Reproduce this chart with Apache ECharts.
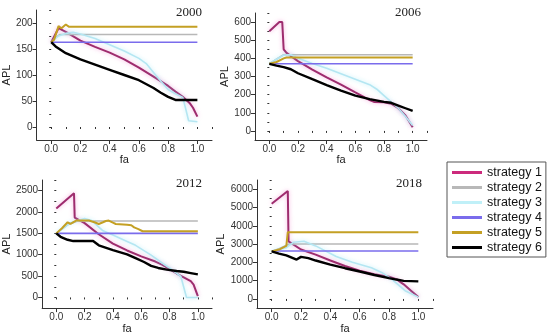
<!DOCTYPE html>
<html>
<head>
<meta charset="utf-8">
<script src="https://cdn.jsdelivr.net/npm/echarts@6/dist/echarts.min.js"></script>
<style>html,body{margin:0;padding:0;background:#fff}#c{width:550px;height:335px}</style>
</head>
<body>
<div id="c"></div>
<script>
const names = ['strategy 1','strategy 2','strategy 3','strategy 4','strategy 5','strategy 6'];
const years = ['2000','2006','2012','2018'];
const xTicks = [0,0.2,0.4,0.6,0.8,1.0];
const yTicks2000 = [0,50,100,150,200];
const yTicks2006 = [0,100,200,300,400,500,600];
const yTicks2012 = [0,500,1000,1500,2000,2500];
const yTicks2018 = [0,1000,2000,3000,4000,5000,6000];

// 2000
const s1_2000 = [[0,163],[0.05,190],[0.1,183],[0.2,166],[0.3,154],[0.4,143],[0.5,130],[0.6,114],[0.7,97],[0.8,79],[0.85,68],[0.9,58],[0.95,45],[0.97,37],[1.0,20]];
const s2_2000 = [[0,163],[0.03,172],[0.06,178],[1.0,178]];
const s3_2000 = [[0,163],[0.05,175],[0.1,180],[0.15,182],[0.2,179],[0.3,170],[0.4,158],[0.5,146],[0.6,132],[0.65,122],[0.7,105],[0.75,88],[0.8,72],[0.85,64],[0.9,57],[0.92,35],[0.94,12],[1.0,10]];
const s4_2000 = [[0,163],[1.0,163]];
const s5_2000 = [[0,163],[0.02,168],[0.05,194],[0.07,190],[0.1,197],[0.12,193],[1.0,193]];
const s6_2000 = [[0,163],[0.03,155],[0.1,142],[0.2,130],[0.3,120],[0.4,110],[0.5,100],[0.6,90],[0.7,75],[0.75,66],[0.8,58],[0.85,52],[1.0,52]];

// 2006
const s1_2006 = [[0,549],[0.07,600],[0.09,600],[0.1,450],[0.12,430],[0.2,385],[0.3,338],[0.4,295],[0.5,255],[0.6,212],[0.7,170],[0.73,160],[0.8,158],[0.85,150],[0.9,125],[0.95,85],[1.0,20]];
const s2_2006 = [[0,370],[0.05,395],[0.1,420],[1.0,420]];
const s3_2006 = [[0,370],[0.05,395],[0.1,418],[0.15,420],[0.2,400],[0.3,372],[0.4,345],[0.5,315],[0.6,285],[0.7,255],[0.75,230],[0.8,195],[0.85,160],[0.9,125],[0.95,80],[1.0,30]];
const s4_2006 = [[0,370],[1.0,370]];
const s5_2006 = [[0,370],[0.05,380],[0.08,392],[0.1,400],[0.12,405],[1.0,405]];
const s6_2006 = [[0,370],[0.05,360],[0.1,352],[0.15,340],[0.2,318],[0.3,285],[0.4,253],[0.5,222],[0.6,195],[0.7,175],[0.8,160],[0.85,155],[0.9,140],[0.95,125],[1.0,110]];

// 2012
const s1_2012 = [[0,2080],[0.125,2440],[0.13,1870],[0.2,1740],[0.3,1480],[0.4,1260],[0.5,1100],[0.6,960],[0.7,840],[0.75,760],[0.8,660],[0.85,560],[0.9,470],[0.95,380],[0.97,300],[1.0,30]];
const s2_2012 = [[0,1500],[0.08,1700],[0.15,1790],[1.0,1790]];
const s3_2012 = [[0,1500],[0.1,1750],[0.2,1850],[0.25,1800],[0.33,1560],[0.4,1460],[0.5,1310],[0.56,1220],[0.67,990],[0.75,800],[0.8,690],[0.88,490],[0.92,0],[1.0,0]];
const s4_2012 = [[0,1500],[1.0,1500]];
const s5_2012 = [[0,1500],[0.04,1620],[0.08,1760],[0.1,1720],[0.14,1800],[0.23,1800],[0.27,1760],[0.3,1720],[0.33,1760],[0.35,1790],[0.37,1800],[0.4,1750],[0.42,1720],[0.5,1700],[0.53,1690],[0.55,1640],[0.58,1600],[0.61,1550],[1.0,1550]];
const s6_2012 = [[0,1500],[0.03,1420],[0.08,1350],[0.12,1320],[0.26,1320],[0.3,1220],[0.4,1110],[0.5,1010],[0.56,920],[0.62,830],[0.67,740],[0.72,690],[0.78,650],[0.85,620],[0.9,600],[0.95,570],[1.0,540]];

// 2018
const s1_2018 = [[0,5200],[0.11,5900],[0.115,3150],[0.2,2700],[0.3,2420],[0.4,2100],[0.5,1800],[0.6,1540],[0.7,1350],[0.8,1220],[0.85,1080],[0.9,800],[0.95,450],[1.0,100]];
const s2_2018 = [[0,2600],[0.05,2750],[0.12,3000],[1.0,3000]];
const s3_2018 = [[0,2600],[0.1,2800],[0.15,3100],[0.22,3150],[0.3,2900],[0.44,2320],[0.55,2000],[0.68,1700],[0.75,1450],[0.82,1070],[0.91,450],[1.0,100]];
const s4_2018 = [[0,2620],[1.0,2620]];
const s5_2018 = [[0,2600],[0.05,2700],[0.1,2900],[0.11,3650],[1.0,3650]];
const s6_2018 = [[0,2600],[0.05,2480],[0.1,2380],[0.17,2150],[0.2,2300],[0.25,2230],[0.3,2100],[0.4,1880],[0.5,1680],[0.6,1500],[0.7,1310],[0.8,1140],[0.85,1060],[0.9,990],[1.0,960]];

const panelData = [
  [s1_2000,s2_2000,s3_2000,s4_2000,s5_2000,s6_2000],
  [s1_2006,s2_2006,s3_2006,s4_2006,s5_2006,s6_2006],
  [s1_2012,s2_2012,s3_2012,s4_2012,s5_2012,s6_2012],
  [s1_2018,s2_2018,s3_2018,s4_2018,s5_2018,s6_2018]
];
const yTickSets = [yTicks2000,yTicks2006,yTicks2012,yTicks2018];
const yRanges = [[-25,225,25],[-50,650,50],[-250,2750,250],[-500,6500,500]];

const colors = ['#9e2c6e','#b8b8b8','#b4e6f2','#7a6cec','#c4a024','#000000'];
const widths = [2,1.6,1.6,1.6,2,2.4];
const grids = [
  {left:33, top:10, width:179, height:130},
  {left:255, top:13, width:172, height:127},
  {left:36, top:180, width:176, height:129},
  {left:257, top:180, width:176, height:129}
];
const yNameGaps = [21,24,26,28];
const titlePos = [[176,6],[395,6],[176,177],[396,177]];
const FONT = 'Liberation Sans, Arial, sans-serif';

const xAxes = [], yAxes = [], series = [];
grids.forEach((g,i)=>{
  xAxes.push({type:'value',gridIndex:i,position:'bottom',min:-0.1,max:1.1,
    name:'fa',nameLocation:'middle',nameGap:12,nameTextStyle:{fontFamily:FONT,fontSize:11,color:'#222'},
    splitLine:{show:false},axisLine:{onZero:false,lineStyle:{color:'#333',width:1}},
    axisTick:{customValues:xTicks,length:4,lineStyle:{color:'#333'}},
    axisLabel:{customValues:xTicks,formatter:v=>v.toFixed(1),fontFamily:FONT,fontSize:10,color:'#333',margin:4}});
  xAxes.push({type:'value',gridIndex:i,position:'bottom',min:-0.1,max:1.1,interval:0.1,
    splitLine:{show:false},axisLine:{show:false},axisLabel:{show:false},
    axisTick:{length:2,lineStyle:{color:'#333'}}});
  const r = yRanges[i];
  yAxes.push({type:'value',gridIndex:i,position:'left',min:r[0],max:r[1],
    name:'APL',nameLocation:'middle',nameGap:yNameGaps[i],nameTextStyle:{fontFamily:FONT,fontSize:11,color:'#222'},
    splitLine:{show:false},axisLine:{show:true,onZero:false,lineStyle:{color:'#333',width:1}},
    axisTick:{show:true,customValues:yTickSets[i],length:4,lineStyle:{color:'#333'}},
    axisLabel:{customValues:yTickSets[i],formatter:v=>String(v),fontFamily:FONT,fontSize:10,color:'#333',margin:4}});
  yAxes.push({type:'value',gridIndex:i,position:'left',min:r[0],max:r[1],interval:r[2],
    splitLine:{show:false},axisLine:{show:false},axisLabel:{show:false},
    axisTick:{show:true,length:2,lineStyle:{color:'#333'}}});
  const order = [3,1,4,2,0,5];
  order.forEach(k=>{
    series.push({type:'line',name:names[k],xAxisIndex:2*i,yAxisIndex:2*i,data:panelData[i][k],
      showSymbol:false,symbol:'none',animation:false,z:2+k,
      lineStyle:{color:colors[k],width:widths[k],
        shadowColor:k===0?'rgba(240,120,200,0.6)':(k===2?'rgba(150,230,245,0.6)':'rgba(0,0,0,0)'),
        shadowBlur:(k===0||k===2)?4:0},
      itemStyle:{color:colors[k]}});
  });
});

const option = {
  animation:false,
  backgroundColor:'#ffffff',
  title: years.map((y,i)=>({text:y,left:titlePos[i][0],top:titlePos[i][1],padding:0,
    textStyle:{fontFamily:'Liberation Serif, Times New Roman, serif',fontSize:13,fontWeight:'normal',color:'#222'}})),
  legend:{orient:'vertical',left:447,top:162,itemWidth:30,itemHeight:3,icon:'rect',itemGap:2,
    padding:[4,4,3,5],borderColor:'#555',borderWidth:1,
    textStyle:{fontFamily:FONT,fontSize:12.5,color:'#111',lineHeight:13},
    data:names.map((n,k)=>({name:n,itemStyle:{color:k===0?'#cc2a7c':(k===2?'#c0f0f8':colors[k])}}))},
  grid:grids,
  xAxis:xAxes,
  yAxis:yAxes,
  series:series
};
const chart = echarts.init(document.getElementById('c'),null,{renderer:'canvas'});
chart.setOption(option);
</script>
</body>
</html>
